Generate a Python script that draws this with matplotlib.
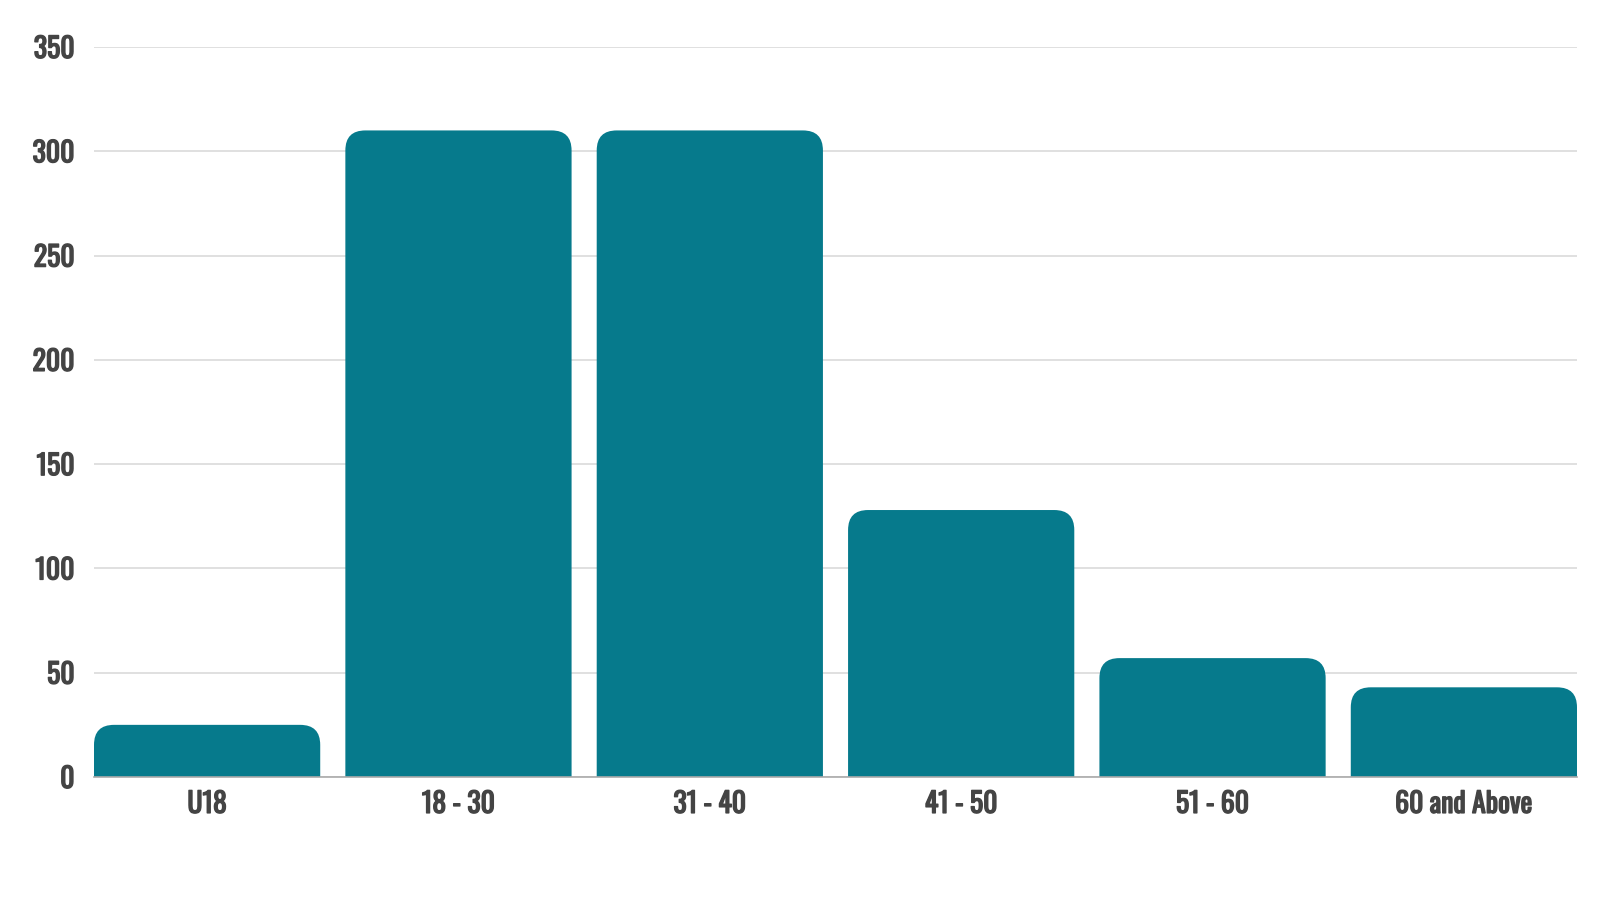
import matplotlib
matplotlib.use("Agg")
import matplotlib.pyplot as plt
from matplotlib import font_manager
from matplotlib.path import Path
from matplotlib.patches import PathPatch
import matplotlib.patheffects as pe

categories = ["U18", "18 - 30", "31 - 40", "41 - 50", "51 - 60", "60 and Above"]
values = [25, 310, 310, 128, 57, 43]
yticks = [0, 50, 100, 150, 200, 250, 300, 350]

fonts = font_manager.fontManager.ttflist
available = {f.name for f in fonts}
family = "DejaVu Sans"
for cand in ["Oswald", "Roboto Condensed", "Liberation Sans Narrow", "Open Sans Condensed", "DejaVu Sans Condensed"]:
    if cand in available:
        family = cand
        break
weights = [f.weight if isinstance(f.weight, int) else 400 for f in fonts if f.name == family]
has_bold = any(w >= 600 for w in weights)

BAR = "#067A8C"
TXT = "#444444"

fig = plt.figure(figsize=(16, 9), dpi=100)
ax = fig.add_axes([94 / 1600, 1 - 777 / 900, (1577 - 94) / 1600, (777 - 47) / 900])

width = 0.9
bars = ax.bar(range(len(categories)), values, width=width, color=BAR, alpha=0)
ax.set_xlim(-width / 2, len(categories) - 1 + width / 2)
ax.set_ylim(0, 350)
fig.canvas.draw()

# rounded-top bars: radius ~20px
bb = ax.get_window_extent()
px_per_x = bb.width / (ax.get_xlim()[1] - ax.get_xlim()[0])
px_per_y = bb.height / (ax.get_ylim()[1] - ax.get_ylim()[0])
r_px = 20
rx = r_px / px_per_x
ry = r_px / px_per_y
for b in bars:
    x, w, h = b.get_x(), b.get_width(), b.get_height()
    r_y = min(ry, h)
    verts = [(x, 0), (x, h - r_y), (x, h), (x + rx, h),
             (x + w - rx, h), (x + w, h), (x + w, h - r_y), (x + w, 0), (x, 0)]
    codes = [Path.MOVETO, Path.LINETO, Path.CURVE3, Path.CURVE3,
             Path.LINETO, Path.CURVE3, Path.CURVE3, Path.LINETO, Path.CLOSEPOLY]
    ax.add_patch(PathPatch(Path(verts, codes), facecolor=BAR, edgecolor="none", zorder=3))

ax.set_yticks(yticks)
ax.set_xticks(range(len(categories)))
ax.set_xticklabels(categories)
ax.yaxis.grid(True, color="#DDDDDD", linewidth=1.3, zorder=0)
ax.set_axisbelow(True)
for s in ["top", "right", "left"]:
    ax.spines[s].set_visible(False)
ax.spines["bottom"].set_color("#AAAAAA")
ax.spines["bottom"].set_linewidth(1.2)
ax.spines["bottom"].set_zorder(4)
ax.tick_params(axis="both", length=0)
ax.tick_params(axis="y", pad=14)
ax.tick_params(axis="x", pad=10)
for lab in ax.get_xticklabels() + ax.get_yticklabels():
    lab.set_fontfamily(family)
    lab.set_fontweight("bold")
    lab.set_fontsize(20)
    lab.set_color(TXT)
    if not has_bold:
        lab.set_path_effects([pe.withStroke(linewidth=1.0, foreground=TXT)])

fig.savefig("out.png", dpi=100, facecolor="white")
